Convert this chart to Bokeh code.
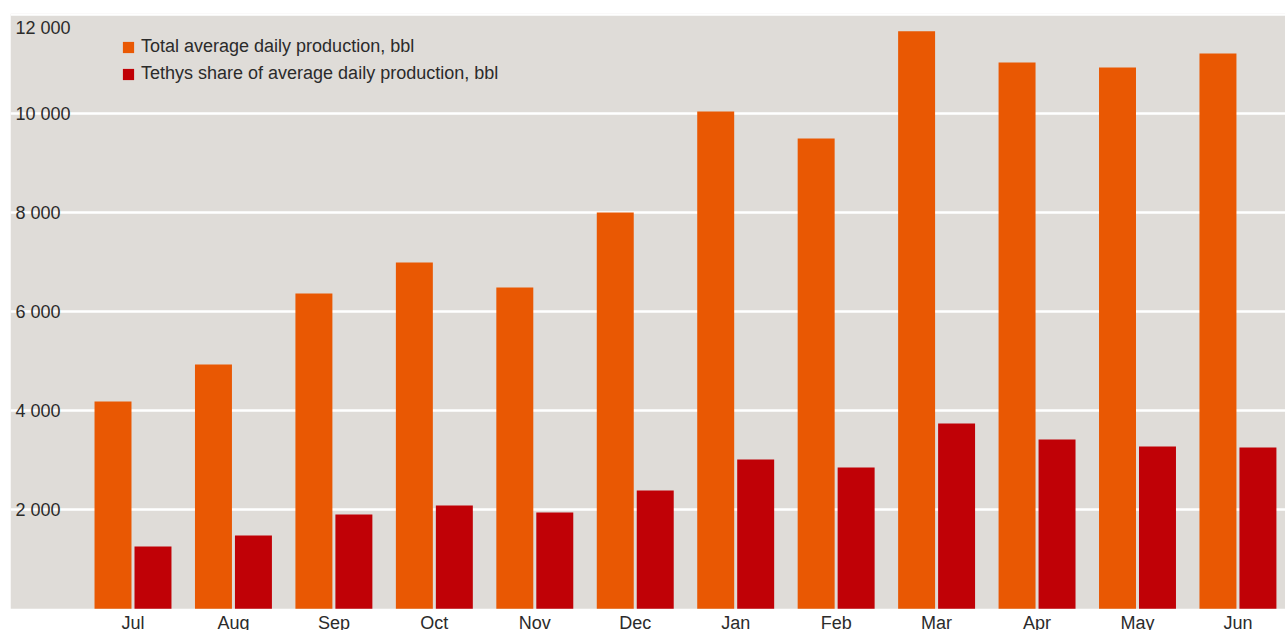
import numpy as np
from bokeh.plotting import figure
from bokeh.models import ColumnDataSource, Range1d, FixedTicker, BoxAnnotation, Legend, LegendItem
from bokeh.transform import dodge
from bokeh.core.properties import value
from bokeh.embed import file_html
from bokeh.resources import INLINE

# ---- data ----
months = ["Jul", "Aug", "Sep", "Oct", "Nov", "Dec", "Jan", "Feb", "Mar", "Apr", "May", "Jun"]
total_production = [4190, 4935, 6370, 6995, 6490, 8005, 10045, 9500, 11665, 11035, 10935, 11220]
tethys_share = [1260, 1480, 1905, 2085, 1945, 2390, 3015, 2855, 3745, 3420, 3280, 3260]
y_ticks = [2000, 4000, 6000, 8000, 10000]
y_top_tick = 12000
series_names = ["Total average daily production, bbl", "Tethys share of average daily production, bbl"]

# ---- styles ----
ORANGE = "#E95803"
RED = "#C00106"
BG = "#DFDCD8"
TXT = "#2b2b2b"
FONT = "Liberation Sans"

W, H = 1285, 630
LEFT, TOP = 10, 13
x_start = -1.2195
x_end = x_start + (W - LEFT) / 100.45

p = figure(width=W, height=H, output_backend="svg", toolbar_location=None,
           x_range=Range1d(x_start, x_end), y_range=Range1d(-438, 12026),
           x_axis_location=None, y_axis_location=None,
           min_border_left=LEFT, min_border_right=0, min_border_top=TOP, min_border_bottom=0)
p.background_fill_color = "white"
p.border_fill_color = "white"
p.outline_line_color = None

# grey plotting panel above zero
p.add_layout(BoxAnnotation(bottom=0, fill_color=BG, fill_alpha=1, line_alpha=0, level="image"))

p.xgrid.visible = False
p.ygrid.ticker = FixedTicker(ticks=y_ticks + [y_top_tick])
p.ygrid.grid_line_color = "white"
p.ygrid.grid_line_width = 2.5

src = ColumnDataSource(dict(x=np.arange(len(months)), month=months,
                            total=total_production, tethys=tethys_share))

r1 = p.vbar(x=dodge("x", -0.199, range=p.x_range), top="total", bottom=0, width=0.368,
            source=src, fill_color=ORANGE, line_color=None)
r2 = p.vbar(x=dodge("x", 0.199, range=p.x_range), top="tethys", bottom=0, width=0.368,
            source=src, fill_color=RED, line_color=None)

# y labels inside plot
ysrc = ColumnDataSource(dict(y=y_ticks, x=[x_start] * len(y_ticks),
                             t=[f"{v:,}".replace(",", " ") for v in y_ticks]))
p.text(x="x", y="y", text="t", source=ysrc, x_offset=5, text_align="left", text_baseline="middle",
       text_font=value(FONT), text_font_size="18px", text_color=TXT)
p.text(x=[x_start], y=[y_top_tick], text=[f"{y_top_tick:,}".replace(",", " ")], x_offset=5, y_offset=13,
       text_align="left", text_baseline="middle",
       text_font=value(FONT), text_font_size="18px", text_color=TXT)

# x labels
p.text(x="x", y=0, text="month", source=src, y_offset=4, text_align="center", text_baseline="top",
       text_font=value(FONT), text_font_size="18px", text_color=TXT)

legend = Legend(items=[LegendItem(label=series_names[0], renderers=[r1]),
                       LegendItem(label=series_names[1], renderers=[r2])],
                location=(111, 546), orientation="vertical")
legend.glyph_width = 14
legend.glyph_height = 14
legend.label_standoff = 6
legend.label_height = 21
legend.spacing = 6
legend.padding = 0
legend.margin = 0
legend.border_line_color = None
legend.background_fill_alpha = 0
legend.label_text_font = FONT
legend.label_text_font_size = "18px"
legend.label_text_color = TXT
p.add_layout(legend, "center")

open("out.html", "w").write(file_html(p, INLINE))
